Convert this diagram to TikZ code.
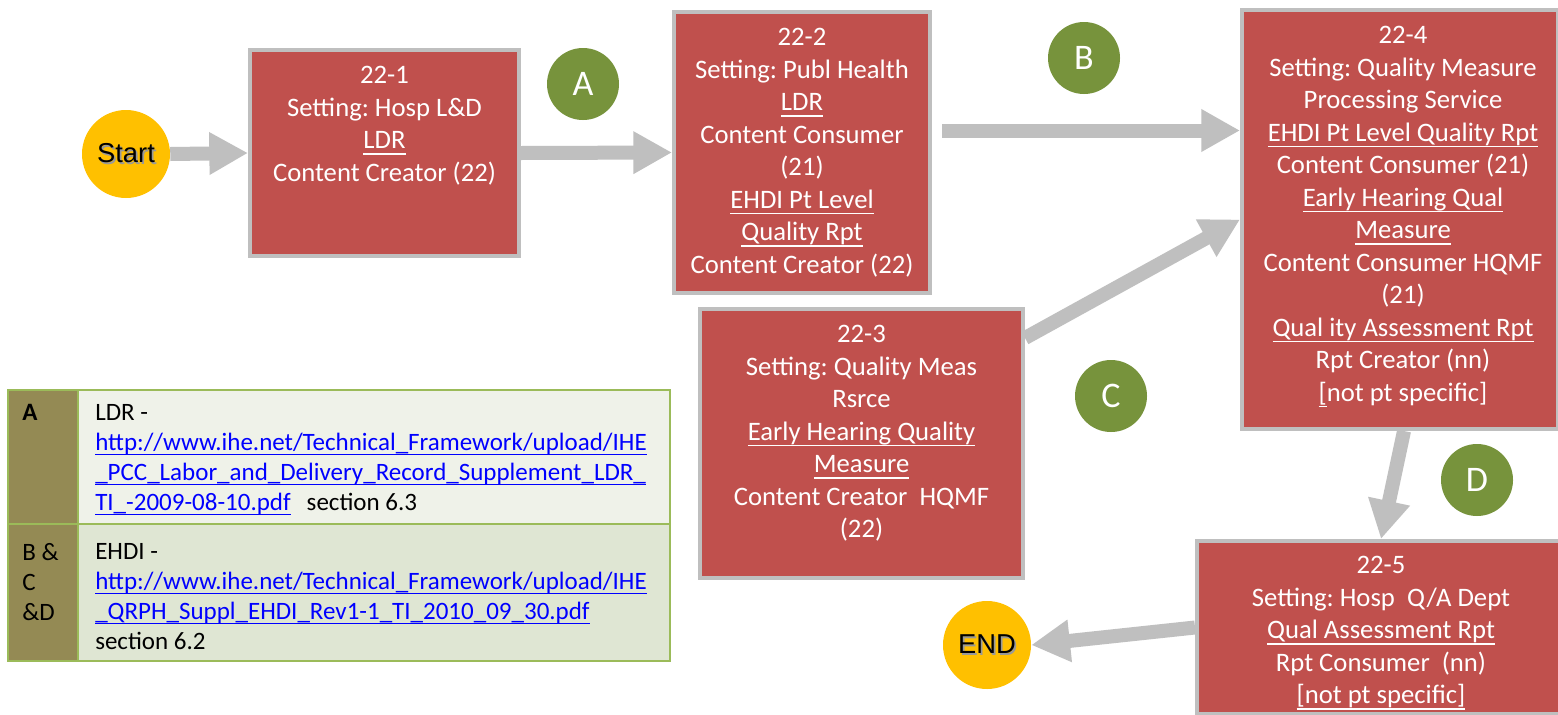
\documentclass[tikz,border=0pt]{standalone}
\usepackage{fontspec}
\setmainfont{Carlito}
\newfontfamily\arialf{Liberation Sans}
\usetikzlibrary{arrows.meta,calc,shapes.geometric}
\frenchspacing
\definecolor{boxred}{HTML}{C0504D}
\definecolor{boxgray}{HTML}{BFBFBF}
\definecolor{startyel}{HTML}{FFC000}
\definecolor{circgreen}{HTML}{77933C}
\definecolor{tabolive}{HTML}{948A54}
\definecolor{tabrowa}{HTML}{EFF2E9}
\definecolor{tabrowb}{HTML}{DFE6D3}
\definecolor{tabline}{HTML}{9BBB59}
\definecolor{linkblue}{HTML}{0000FF}
\newsavebox{\myulbox}
\newcommand{\myul}[1]{\leavevmode\sbox{\myulbox}{#1}\rlap{\rule[-4.5pt]{\wd\myulbox}{1.1pt}}\usebox{\myulbox}}
\newcommand{\weblink}[1]{\textcolor{linkblue}{\sbox{\myulbox}{#1}\rlap{\rule[-3.8pt]{\wd\myulbox}{0.8pt}}\usebox{\myulbox}}}
\newcommand{\shadowtxt}[1]{\leavevmode\rlap{\hspace{1.3pt}\raisebox{-1.3pt}{\textcolor{black!40}{#1}}}#1}
\tikzset{
  procbox/.style={rectangle, draw=boxgray, line width=3pt, fill=boxred, inner sep=0pt},
  boxtext/.style={text=white, align=center, inner sep=0pt, anchor=north,
    font=\fontsize{20}{24.4}\selectfont},
  termcirc/.style={circle, fill=startyel, minimum size=66pt, inner sep=0pt,
    font=\arialf\fontsize{20.5}{24}\selectfont, text=black},
  lettercirc/.style={circle, fill=circgreen, minimum size=54pt, inner sep=0pt,
    text=white, font=\fontsize{27}{30}\selectfont},
  bigarrow/.style={draw=boxgray, line width=10.5pt, -{Triangle[length=29pt,width=30pt]}},
  tabtext/.style={align=left, inner sep=0pt, anchor=north west,
    font=\fontsize{18.75}{22.5}\selectfont, text=black},
}
\begin{document}
\begin{tikzpicture}[x=0.75pt,y=-0.75pt]
\clip (0,0) rectangle (1558,714);
\useasboundingbox (0,0) rectangle (1558,714);
\fill[white] (0,0) rectangle (1558,714);

% process boxes
\node[procbox, minimum width=201.75pt, minimum height=154.5pt] (b1) at (384.5,153) {};
\node[procbox, minimum width=192pt, minimum height=210.75pt] (b2) at (802,152.5) {};
\node[procbox, minimum width=242.25pt, minimum height=201.75pt] (b3) at (861.5,443.5) {};
\node[procbox, minimum width=237pt, minimum height=314.25pt] (b4) at (1400,219.5) {};
\node[procbox, minimum width=276pt, minimum height=129.75pt] (b5) at (1381,627.5) {};

\node[boxtext] (t1) at ($(b1.north)+(0,18)$) {22-1\\Setting: Hosp L\&D\\\myul{LDR}\\Content Creator (22)};
\node[boxtext] (t2) at ($(b2.north)+(0,18)$) {22-2\\Setting: Publ Health\\\myul{LDR}\\Content Consumer\\(21)\\\myul{EHDI Pt Level}\\\myul{Quality Rpt}\\Content Creator (22)};
\node[boxtext] (t3) at ($(b3.north)+(0,18)$) {22-3\\Setting: Quality Meas\\Rsrce\\\myul{Early Hearing Quality}\\\myul{Measure}\\Content Creator~~HQMF\\(22)};
\node[boxtext] (t4) at ($(b4.north)+(3,18)$) {22-4\\Setting: Quality Measure\\Processing Service\\\myul{EHDI Pt Level Quality Rpt}\\Content Consumer (21)\\\myul{Early Hearing Qual}\\\myul{Measure}\\Content Consumer HQMF\\(21)\\\myul{Qual ity Assessment Rpt}\\Rpt Creator (nn)\\\myul{[}not pt specific]};
\node[boxtext] (t5) at ($(b5.north)+(0,17)$) {22-5\\Setting: Hosp~~Q/A Dept\\\myul{Qual Assessment Rpt}\\Rpt Consumer~~(nn)\\\myul{[not pt specific]}};

% terminals
\node[termcirc] (start) at (126,154) {\shadowtxt{Start}};
\node[termcirc] (endc) at (987,645) {\shadowtxt{END}};

% letter circles
\node[lettercirc] (cA) at (583,84) {A};
\node[lettercirc] (cB) at (1084,58) {B};
\node[lettercirc] (cC) at (1111,396) {C};
\node[lettercirc] (cD) at (1477,480) {D};

% connectors
\coordinate (bstart) at ($(b2.east)+(10,-22)$);
\coordinate (cstart) at ($(b3.north east)+(0,31)$);
\draw[bigarrow] (start.east) -- (b1.west);
\draw[bigarrow] (b1.east) -- (b2.west);
\draw[bigarrow] (bstart) -- (bstart -| b4.west);
\draw[bigarrow] (cstart) -- (b4.west);
\draw[bigarrow] ($(b4.south)+(4,0)$) -- (b5.north);
\draw[bigarrow] (b5.west) -- (endc.east);

% reference table
\fill[tabolive] (8,390) rectangle (78,661);
\fill[tabrowa] (78,390) rectangle (670,524);
\fill[tabrowb] (78,524) rectangle (670,661);
\draw[tabline, line width=2pt] (8,390) rectangle (670,661);
\draw[tabline, line width=2pt] (8,524) -- (670,524);
\draw[tabline, line width=2pt] (78,390) -- (78,661);
\node[tabtext] (ka) at (22,404) {\bfseries A};
\node[tabtext] (kb) at (22,543) {B \&\\C\\\&D};
\node[tabtext] (ra) at (95,404) {LDR -\\\weblink{http://www.ihe.net/Technical\_Framework/upload/IHE}\\\weblink{\_PCC\_Labor\_and\_Delivery\_Record\_Supplement\_LDR\_}\\\weblink{TI\_-2009-08-10.pdf}\hspace{12pt}section 6.3};
\node[tabtext] (rb) at (95,543) {EHDI -\\\weblink{http://www.ihe.net/Technical\_Framework/upload/IHE}\\\weblink{\_QRPH\_Suppl\_EHDI\_Rev1-1\_TI\_2010\_09\_30.pdf}\\section 6.2};
\end{tikzpicture}
\end{document}
